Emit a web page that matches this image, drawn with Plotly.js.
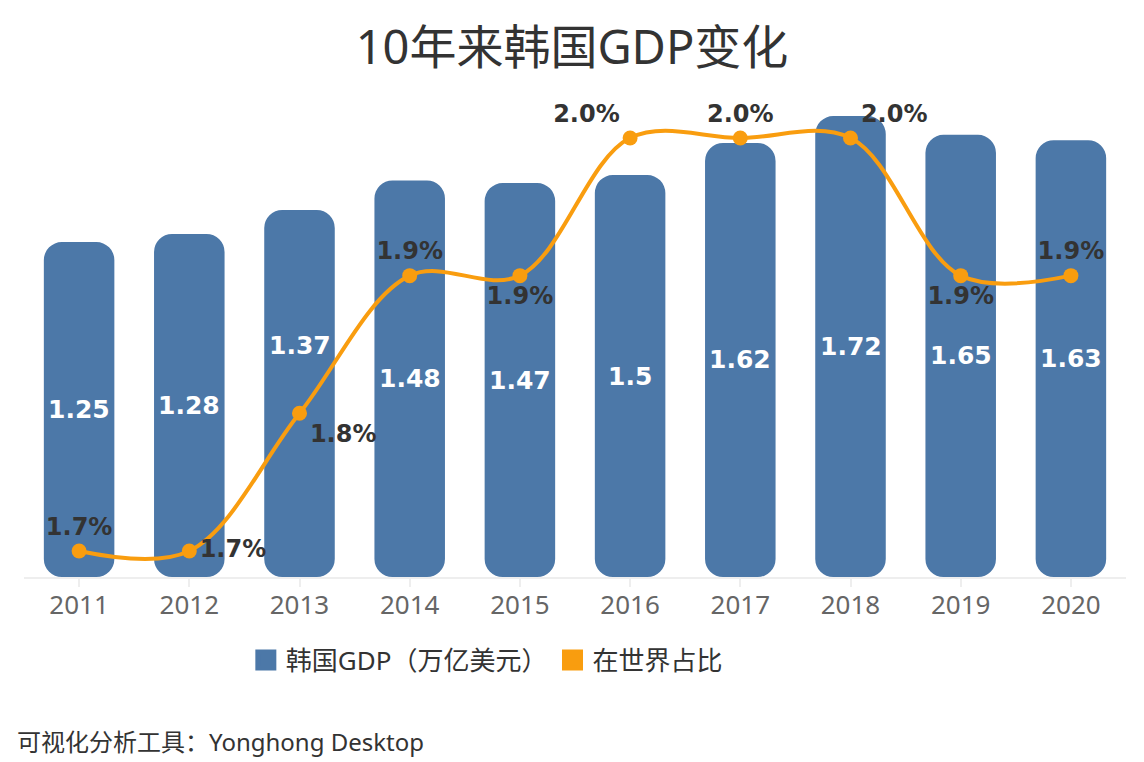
<!DOCTYPE html>
<html>
<head>
<meta charset="utf-8">
<script src="https://cdn.plot.ly/plotly-3.0.1.min.js"></script>
<style>html,body{margin:0;padding:0;background:#fff;}#chart{width:1144px;height:762px;}</style>
</head>
<body>
<div id="chart"></div>
<script>
const years = ['2011','2012','2013','2014','2015','2016','2017','2018','2019','2020'];
const gdp = [1.25, 1.28, 1.37, 1.48, 1.47, 1.5, 1.62, 1.72, 1.65, 1.63];
const share = [1.7, 1.7, 1.8, 1.9, 1.9, 2.0, 2.0, 2.0, 1.9, 1.9];
const shareLabels = ['1.7%','1.7%','1.8%','1.9%','1.9%','2.0%','2.0%','2.0%','1.9%','1.9%'];
const gdpLabels = ['1.25','1.28','1.37','1.48','1.47','1.5','1.62','1.72','1.65','1.63'];

// styling: label placement
const shareLabelPos = ['top center','middle right','bottom right','top center','bottom center','top left','top center','top right','bottom center','top center'];
const gdpLabelShift = {'2013': 48};

const BLUE = '#4c78a8';
const ORANGE = '#f99d0f';
const FONT = 'Noto Sans, Noto Sans CJK SC, sans-serif';
const LABELFONT = 'DejaVu Sans, sans-serif';

// a bar with an explicit base is drawn as a floating bar, rounded at both ends
const bars = {
  type: 'bar', x: years, y: gdp, base: 0,
  marker: {color: BLUE, cornerradius: 18, line: {width: 0}},
  width: 0.64, showlegend: false, hoverinfo: 'skip', yaxis: 'y'
};
const line = {
  type: 'scatter', mode: 'lines+markers+text', x: years, y: share,
  yaxis: 'y2',
  line: {color: ORANGE, width: 4, shape: 'spline', smoothing: 1},
  marker: {color: ORANGE, size: 15},
  text: shareLabels, textposition: shareLabelPos,
  textfont: {family: LABELFONT, size: 24, color: '#333333', weight: 'bold'},
  showlegend: false, hoverinfo: 'skip', cliponaxis: false
};
const legBar = {
  type: 'scatter', mode: 'markers', x: [null], y: [null], name: '韩国GDP（万亿美元）',
  marker: {color: BLUE, symbol: 'square', size: 16, line: {color: BLUE, width: 5}}, showlegend: true
};
const legLine = {
  type: 'scatter', mode: 'markers', x: [null], y: [null], name: '在世界占比',
  marker: {color: ORANGE, symbol: 'square', size: 16, line: {color: ORANGE, width: 5}}, showlegend: true
};

// category axis: annotations use the category index
const barAnnotations = years.map((yr, i) => ({
  x: i, y: gdp[i] / 2, xref: 'x', yref: 'y', text: gdpLabels[i], showarrow: false,
  xanchor: 'center', yanchor: 'middle', yshift: gdpLabelShift[yr] || 0,
  font: {family: LABELFONT, size: 25, color: '#ffffff', weight: 'bold'}
}));

const layout = {
  width: 1144, height: 762,
  paper_bgcolor: '#ffffff', plot_bgcolor: '#ffffff',
  margin: {l: 24, r: 18, t: 96, b: 185},
  barmode: 'overlay',
  font: {family: FONT, color: '#333333'},
  title: {text: '10年来韩国GDP变化', x: 0.5, xref: 'container', xanchor: 'center',
          y: 1 - 48/762, yref: 'container', yanchor: 'middle',
          font: {family: FONT, size: 47, color: '#333333'}},
  xaxis: {type: 'category', range: [-0.5, 9.5], showline: true, linecolor: '#eeeeee', linewidth: 2,
          ticks: 'outside', ticklen: 8, tickcolor: '#eeeeee', tickwidth: 2, ticklabelstandoff: -4,
          tickfont: {family: FONT, size: 26, color: '#666666'}, showgrid: false, zeroline: false},
  yaxis: {range: [0, 1.795], visible: false, showgrid: false, zeroline: false, fixedrange: true},
  yaxis2: {range: [1.6811, 2.0305], overlaying: 'y', side: 'right', visible: false,
           showgrid: false, zeroline: false},
  showlegend: true,
  legend: {orientation: 'h', x: 0.42, xanchor: 'center', y: -0.1726, yanchor: 'middle',
           font: {family: FONT, size: 26, color: '#333333'}, itemclick: false},
  annotations: barAnnotations.concat([{
    text: '可视化分析工具：Yonghong Desktop', xref: 'paper', yref: 'paper',
    x: -0.0082, y: -0.343, xanchor: 'left', yanchor: 'middle', showarrow: false,
    font: {family: FONT, size: 24, color: '#333333'}
  }])
};

Plotly.newPlot('chart', [bars, line, legBar, legLine], layout, {staticPlot: true});
</script>
</body>
</html>
